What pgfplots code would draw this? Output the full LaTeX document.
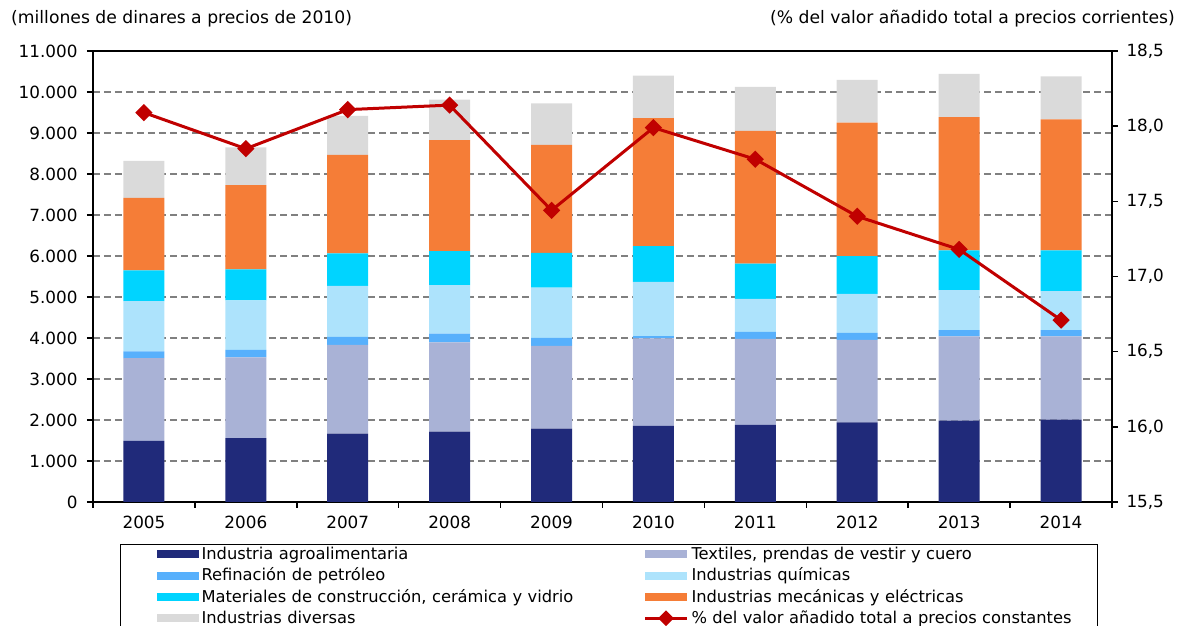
\documentclass[border=0pt]{standalone}
\usepackage{pgfplots}
\pgfplotsset{compat=1.18}
\usepackage{fontspec}
\setmainfont{DejaVu Sans}
\definecolor{cAgro}{RGB}{32,42,122}
\definecolor{cText}{RGB}{169,178,214}
\definecolor{cRef}{RGB}{87,176,252}
\definecolor{cChem}{RGB}{173,227,252}
\definecolor{cCons}{RGB}{0,212,255}
\definecolor{cMech}{RGB}{245,125,55}
\definecolor{cDiv}{RGB}{218,218,218}
\definecolor{cLine}{RGB}{192,0,0}
\newcommand{\fs}{\fontsize{16.8}{20}\selectfont}
\newcommand{\fl}{\fontsize{16.3}{19}\selectfont}
\newcommand{\ft}{\fontsize{17.2}{20}\selectfont}
\pgfplotsset{linelegend/.style={legend image code/.code={\path (0pt,0pt); \draw[##1] (36pt,0.8pt) -- (78pt,0.8pt); \draw[##1] plot coordinates {(57pt,0.8pt)};}}}
\begin{document}
\begin{tikzpicture}
\useasboundingbox (0,0) rectangle (1181pt,626pt);
\begin{axis}[
  at={(93pt,124pt)}, anchor=south west,
  width=1019pt, height=451pt, scale only axis,
  ybar stacked, bar width=41pt,
  xmin=-0.5, xmax=9.5, ymin=0, ymax=11000,
  xtick={-0.5,0.5,...,9.5},
  xticklabels={2005,2006,2007,2008,2009,2010,2011,2012,2013,2014,{}},
  xticklabel style={xshift=50.95pt, yshift=-4pt},
  ytick={0,1000,...,11000},
  scaled y ticks=false,
  ytick pos=left, xtick pos=bottom,
  tick align=outside, major tick length=6pt,
  tick style={black, line width=1.5pt},
  axis line style={black, line width=2pt},
  ymajorgrids,
  grid style={gray, line width=1.3pt, dash pattern=on 7pt off 4pt},
  /pgf/number format/assume math mode=true,
  tick label style={font=\fs},
  yticklabel style={xshift=-6pt, /pgf/number format/fixed, /pgf/number format/1000 sep={.}},
  legend columns=2,
  legend style={at={(0.0265,-0.0931)}, anchor=north west, font=\fl,
    inner sep=0pt, draw=black, line width=1pt, row sep=0pt,
    nodes={text width=406pt, align=left, inner xsep=0pt, inner ysep=3pt, text height=12pt, text depth=3.3pt},
    /tikz/every odd column/.append style={column sep=3pt}},
  legend cell align=left,
  legend image code/.code={\path (0pt,0pt); \draw[#1,draw=none] (36pt,-3.2pt) rectangle (78pt,4.8pt);},
]
\addplot[fill=cAgro, draw=none] coordinates {(0,1490) (1,1560) (2,1665) (3,1715) (4,1790) (5,1855) (6,1880) (7,1945) (8,1985) (9,2010)};
\addlegendentry{Industria agroalimentaria}
\addplot[fill=cText, draw=none] coordinates {(0,2020) (1,1970) (2,2165) (3,2180) (4,2015) (5,2135) (6,2100) (7,2010) (8,2055) (9,2030)};
\addlegendentry{Textiles, prendas de vestir y cuero}
\addplot[fill=cRef, draw=none] coordinates {(0,165) (1,180) (2,195) (3,210) (4,195) (5,55) (6,170) (7,170) (8,155) (9,155)};
\addlegendentry{Refinación de petróleo}
\addplot[fill=cChem, draw=none] coordinates {(0,1225) (1,1210) (2,1245) (3,1185) (4,1230) (5,1325) (6,805) (7,950) (8,975) (9,950)};
\addlegendentry{Industrias químicas}
\addplot[fill=cCons, draw=none] coordinates {(0,750) (1,755) (2,795) (3,830) (4,845) (5,870) (6,860) (7,920) (8,970) (9,990)};
\addlegendentry{Materiales de construcción, cerámica y vidrio}
\addplot[fill=cMech, draw=none] coordinates {(0,1765) (1,2055) (2,2400) (3,2705) (4,2635) (5,3120) (6,3235) (7,3260) (8,3250) (9,3195)};
\addlegendentry{Industrias mecánicas y eléctricas}
\addplot[fill=cDiv, draw=none] coordinates {(0,905) (1,920) (2,950) (3,990) (4,1015) (5,1040) (6,1075) (7,1040) (8,1050) (9,1050)};
\addlegendentry{Industrias diversas}
\addlegendimage{sharp plot, cLine, line width=3pt, mark=square*, mark size=4pt, mark options={rotate=45, solid}, linelegend}
\addlegendentry{\% del valor añadido total a precios constantes}
\end{axis}
\begin{axis}[
  at={(93pt,124pt)}, anchor=south west,
  width=1019pt, height=451pt, scale only axis,
  xmin=-0.5, xmax=9.5, ymin=15.5, ymax=18.5,
  axis y line*=right, axis x line=none,
  ytick={15.5,16,...,18.5},
  tick align=outside, major tick length=6pt,
  tick style={black, line width=1.5pt},
  axis line style={black, line width=2pt},
  /pgf/number format/assume math mode=true,
  tick label style={font=\fs},
  yticklabel style={xshift=5pt, /pgf/number format/fixed, /pgf/number format/fixed zerofill, /pgf/number format/precision=1, /pgf/number format/use comma},
]
\addplot[cLine, line width=3pt, mark=square*, mark size=4.6pt, mark options={rotate=45}] coordinates {
(0,18.09) (1,17.85) (2,18.11) (3,18.14) (4,17.44) (5,17.99) (6,17.78) (7,17.40) (8,17.18) (9,16.71)};
\end{axis}
\node[anchor=base west, font=\ft, inner sep=0pt] at (11pt,602pt) {(millones de dinares a precios de 2010)};
\node[anchor=base east, font=\ft, inner sep=0pt] at (1175pt,602pt) {(\% del valor añadido total a precios corrientes)};
\end{tikzpicture}
\end{document}
